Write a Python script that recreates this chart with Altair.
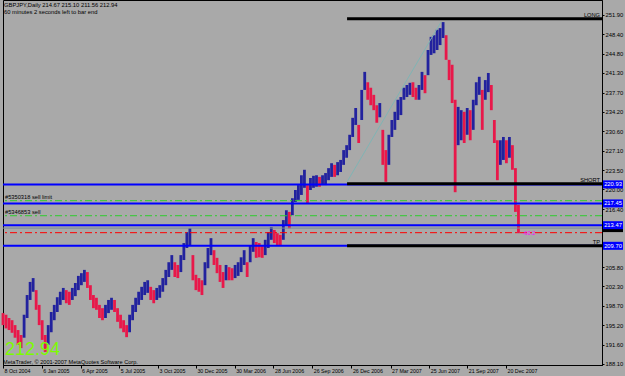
import altair as alt
import pandas as pd

FONT = "Liberation Sans"

# ---------------- data ----------------
first_week = "2004-10-08"
highs = [197.4, 197.1, 196.5, 196.1, 195.2, 194.3, 193.4, 197.1, 200.7, 203.1,
         203.8, 201.6, 198.9, 196.1, 193.4, 195.2, 197.6, 198.9, 200.3, 201.3,
         202.0, 201.6, 201.3, 202.0, 202.9, 204.2, 204.7, 205.3, 204.9, 202.5,
         200.7, 200.2, 198.9, 198.3, 198.9, 199.8, 200.2, 199.8, 198.3, 197.1,
         196.1, 195.2, 197.1, 198.9, 200.2, 201.3, 202.2, 203.1, 203.4, 202.2,
         201.6, 202.0, 202.5, 203.8, 205.3, 206.7, 208.0, 206.7, 206.2, 208.0,
         210.2, 212.2, 212.9, 208.0, 204.4, 203.8, 203.4, 206.7, 209.3, 211.1,
         208.9, 207.5, 206.2, 204.9, 206.2, 205.8, 205.6, 206.2, 206.7, 207.6,
         208.9, 206.7, 209.8, 211.1, 210.4, 210.2, 209.8, 210.8, 212.2, 213.1,
         212.6, 212.0, 211.7, 214.4, 216.2, 215.9, 218.4, 219.9, 220.8, 222.6,
         223.6, 220.8, 222.1, 222.5, 222.6, 222.3, 222.6, 223.0, 223.9, 224.8,
         224.5, 225.0, 225.4, 227.2, 228.1, 230.0, 233.1, 234.9, 231.8, 238.2,
         241.5, 239.6, 238.6, 237.3, 235.4, 235.8, 230.9, 227.2, 230.0, 232.7,
         234.2, 236.4, 236.9, 238.6, 239.1, 239.5, 239.6, 238.6, 239.1, 241.5,
         240.9, 245.5, 247.9, 248.2, 249.2, 249.5, 250.6, 248.2, 243.7, 242.8,
         236.4, 235.1, 234.5, 234.2, 234.9, 234.5, 236.4, 239.6, 240.6, 238.2,
         240.0, 241.3, 239.1, 232.7, 229.0, 229.0, 229.6, 229.0, 229.6, 228.1,
         223.9, 217.2]
lows = [195.2, 194.6, 194.3, 193.8, 192.9, 191.6, 191.0, 192.9, 196.5, 199.8,
        201.3, 198.0, 195.2, 192.5, 190.3, 191.6, 193.9, 196.1, 197.6, 198.9,
        199.8, 199.2, 198.9, 199.8, 200.5, 201.6, 202.5, 203.1, 202.0, 199.8,
        198.3, 198.0, 196.5, 196.1, 196.5, 197.4, 198.0, 197.6, 195.8, 194.6,
        193.9, 193.0, 193.9, 196.1, 197.6, 198.9, 199.8, 200.7, 201.1, 199.8,
        199.2, 199.8, 200.2, 201.3, 202.5, 204.0, 205.3, 204.0, 203.8, 204.9,
        207.1, 209.3, 209.8, 203.4, 201.6, 201.3, 200.7, 202.5, 205.6, 208.0,
        206.2, 204.7, 203.1, 202.0, 203.4, 203.4, 203.4, 203.8, 204.2, 204.9,
        206.2, 204.0, 206.7, 208.6, 207.5, 207.6, 207.5, 208.0, 209.3, 210.8,
        210.2, 209.8, 209.8, 210.8, 213.5, 212.9, 215.3, 217.7, 218.1, 219.0,
        220.3, 217.5, 219.9, 220.3, 220.5, 220.5, 220.8, 220.8, 221.7, 222.3,
        222.3, 222.6, 223.2, 224.5, 225.8, 227.2, 229.6, 231.8, 228.5, 232.7,
        238.2, 236.4, 235.4, 234.5, 232.2, 233.2, 224.5, 221.4, 224.5, 229.6,
        230.9, 232.7, 233.6, 236.4, 236.9, 237.3, 236.9, 236.4, 236.4, 238.2,
        237.6, 240.9, 244.6, 244.9, 245.5, 246.4, 247.7, 243.7, 240.0, 235.8,
        219.5, 228.1, 229.0, 228.5, 230.0, 229.0, 230.9, 235.4, 237.3, 230.9,
        236.4, 237.8, 234.5, 228.5, 221.7, 224.5, 225.4, 224.8, 225.8, 223.6,
        215.9, 212.0]

x_domain = ["2004-10-08", "2008-07-30"]
x_tick_dates = ["2004-10-08", "2005-01-06", "2005-04-06", "2005-07-05", "2005-10-03",
                "2005-12-30", "2006-03-30", "2006-06-28", "2006-09-26", "2006-12-26",
                "2007-03-27", "2007-06-25", "2007-09-21", "2007-12-20"]
y_domain = [187.91, 254.64]
# 212.90 and 209.30 sit fully under the price boxes in the reference
y_ticks = [188.10, 191.60, 195.20, 198.70, 202.30, 205.80, 216.40,
           220.00, 223.50, 227.10, 230.60, 234.20, 237.70, 241.30, 244.80, 248.40, 251.90]

blue_levels = [220.93, 217.45, 213.47, 209.70]
order_levels = [217.95, 215.20]
order_labels = ["#5350318 sell limit", "#5346853 sell"]
stop_level = [212.10]
stop_label = ["-60.2"]
stop_label_date = ["2008-01-27"]
bid_level = [212.94]
named_levels = [251.20, 221.05, 209.70]
named_labels = ["LONG", "SHORT", "TP"]
named_start = "2006-12-16"
trend_dates = ["2006-12-16", "2007-07-22"]
trend_prices = [221.4, 250.6]
header_lines = ["GBPJPY,Daily  214.67 215.10 211.56 212.94",
                "60 minutes 2 seconds left to bar end"]
big_price = ["212.94"]
copyright_text = ["MetaTrader, \u00a9 2001-2007 MetaQuotes Software Corp."]

# ---------------- styles ----------------
BG = "#a9a9a9"
UP = "#22229e"
DOWN = "#e8184a"
LINE_BLUE = "#0000ff"


def dt(s):
    y, m, d = (int(v) for v in s.split("-"))
    return alt.DateTime(year=y, month=m, date=d)


xscale = alt.Scale(domain=[dt(x_domain[0]), dt(x_domain[1])])
yscale = alt.Scale(domain=y_domain, zero=False, nice=False)

xaxis = alt.Axis(values=[dt(s) for s in x_tick_dates], format="%-d %b %Y",
                 labelAlign="left", labelBaseline="top", labelOffset=1, labelPadding=0,
                 tickSize=3, labelFontSize=5.3, labelFont=FONT, labelColor="#000000",
                 tickColor="#000000", domainColor="#000000", grid=False, title=None,
                 labelOverlap=False, labelFlush=False, labelBound=False)
yaxis = alt.Axis(orient="right", values=y_ticks, format=".2f", labelAlign="left",
                 labelBaseline="middle", labelPadding=1, tickSize=2, labelFontSize=5.8,
                 labelFont=FONT, labelColor="#000000", tickColor="#000000",
                 domainColor="#000000", grid=False, title=None, labelOverlap=False,
                 labelFlush=False, labelBound=False)


def X(field="date"):
    return alt.X(f"{field}:T", scale=xscale, axis=xaxis)


def Y(field="price"):
    return alt.Y(f"{field}:Q", scale=yscale, axis=yaxis)


dates = pd.date_range(first_week, periods=len(highs), freq="7D")
mids = [(h + l) / 2 for h, l in zip(highs, lows)]
direction = ["down"] + ["up" if mids[i] >= mids[i - 1] else "down" for i in range(1, len(mids))]
candles_df = pd.DataFrame({"date": dates, "high": highs, "low": lows, "dir": direction})

candles = alt.Chart(candles_df).mark_rule(strokeWidth=2.8).encode(
    x=X(), y=Y("low"), y2="high:Q",
    color=alt.Color("dir:N", scale=alt.Scale(domain=["up", "down"], range=[UP, DOWN]), legend=None),
)

trend_df = pd.DataFrame({"date": pd.to_datetime(trend_dates), "price": trend_prices})
trend = alt.Chart(trend_df).mark_line(strokeWidth=1, color="#80b4b4").encode(x=X(), y=Y())

blue_df = pd.DataFrame({"price": blue_levels})
blue_lines = alt.Chart(blue_df).mark_rule(strokeWidth=2, color=LINE_BLUE).encode(y=Y())

order_df = pd.DataFrame({"price": order_levels, "label": order_labels})
green_lines = alt.Chart(order_df).mark_rule(strokeWidth=1, color="#2ecc2e",
                                            strokeDash=[7, 3, 2, 3]).encode(y=Y())
green_text = alt.Chart(order_df).mark_text(align="left", baseline="bottom", dy=-1, x=2,
                                           font=FONT, fontSize=5.7, color="#000000").encode(
    y=Y(), text="label:N")

stop_df = pd.DataFrame({"price": stop_level, "label": stop_label,
                        "date": pd.to_datetime(stop_label_date)})
red_line = alt.Chart(stop_df).mark_rule(strokeWidth=1, color="#ff0000",
                                        strokeDash=[7, 3, 2, 3]).encode(y=Y())
red_text = alt.Chart(stop_df).mark_text(align="left", baseline="middle", font=FONT,
                                        fontSize=5.7, color="#ff00ff").encode(
    x=X(), y=Y(), text="label:N")

bid_df = pd.DataFrame({"price": bid_level})
bid_line = alt.Chart(bid_df).mark_rule(strokeWidth=1, color="#778899").encode(y=Y())

named_df = pd.DataFrame({"price": named_levels, "label": named_labels,
                         "date": pd.to_datetime([named_start] * len(named_levels)),
                         "end": pd.to_datetime([x_domain[1]] * len(named_levels))})
named_lines = alt.Chart(named_df).mark_rule(strokeWidth=3, color="#000000").encode(
    x=X(), x2="end:T", y=Y())
named_text = alt.Chart(named_df).mark_text(align="right", baseline="bottom", dy=-1, x=597,
                                           font=FONT, fontSize=5.7, color="#000000").encode(
    y=Y(), text="label:N")

# bid price box: only its lower edge shows below the 213.47 box in the reference
bid_box = alt.Chart(bid_df).mark_rect(x=600, x2=620, yOffset=-4, y2Offset=4,
                                      color="#000000").encode(y=Y(), y2="price:Q")
boxes = alt.Chart(blue_df).mark_rect(x=600, x2=620, yOffset=-4, y2Offset=4,
                                     color=LINE_BLUE).encode(y=Y(), y2="price:Q")
box_text = alt.Chart(blue_df).mark_text(x=610, align="center", baseline="middle",
                                        font=FONT, fontSize=5.8, color="#ffffff").encode(
    y=Y(), text=alt.Text("price:Q", format=".2f"))

headers = [
    alt.Chart(pd.DataFrame({"t": [line]})).mark_text(
        align="left", baseline="middle", x=1, y=5 + 7 * i,
        font=FONT, fontSize=5.8, color="#000000").encode(text="t:N")
    for i, line in enumerate(header_lines)
]

big_df = pd.DataFrame({"t": big_price})
big = alt.Chart(big_df).mark_text(align="left", baseline="alphabetic", x=2, y=355,
                                  font=FONT, fontSize=18, color="#7cfc00").encode(text="t:N")

copy_df = pd.DataFrame({"t": copyright_text})
copyr = alt.Chart(copy_df).mark_text(align="left", baseline="middle", x=0, y=361.5,
                                     font=FONT, fontSize=5.6, color="#000000").encode(text="t:N")

chart = alt.layer(
    candles, trend, blue_lines, green_lines, red_line, bid_line, named_lines,
    green_text, red_text, named_text, big, copyr,
    bid_box, boxes, box_text, *headers,
).properties(
    width=599, height=365,
    padding={"left": 3, "top": 0, "right": 23, "bottom": 11},
    autosize=alt.AutoSizeParams(type="none"),
    background=BG,
).configure_view(stroke="#000000", strokeWidth=1)

chart.save("out.html", embed_options={"renderer": "svg", "actions": False})
